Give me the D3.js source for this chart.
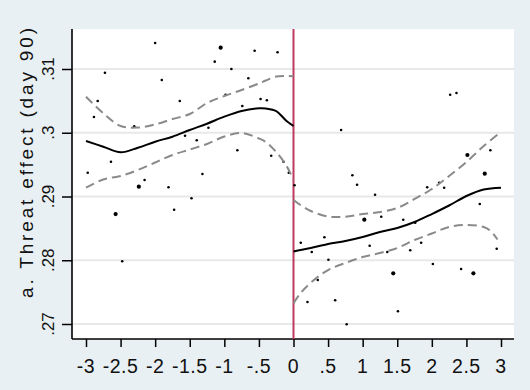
<!DOCTYPE html>
<html><head><meta charset="utf-8">
<script src="https://cdn.jsdelivr.net/npm/d3@7"></script>
<style>
html,body{margin:0;padding:0;background:#E9F0F3;}
svg{display:block;font-family:"Liberation Sans",Arial,Helvetica,sans-serif;}
</style></head>
<body><svg id="chart" width="530" height="390"></svg>
<script>
// ---- data ----
const xTicks = [-3,-2.5,-2,-1.5,-1,-0.5,0,0.5,1,1.5,2,2.5,3];
const xTickLabels = ["-3","-2.5","-2","-1.5","-1","-.5","0",".5","1","1.5","2","2.5","3"];
const yTicks = [0.27,0.28,0.29,0.30,0.31];
const yTickLabels = [".27",".28",".29",".3",".31"];
const yTitle = "a. Threat effect (day 90)";

const scatterX = [-2.0,-1.053,-0.562,-2.726,-1.139,-0.898,-1.904,-0.653,-0.981,-2.831,-1.644,-0.476,-0.385,-2.885,-0.740,-2.303,-1.230,-1.568,-1.399,-0.812,-2.639,-2.975,-1.317,-2.236,-2.153,-1.807,-1.475,-0.231,-0.322,-0.144,-0.068,0.015,0.688,2.265,2.356,0.851,0.919,1.179,2.514,2.765,2.846,1.933,2.106,2.178,-2.572,-1.726,-2.476,0.105,0.264,0.447,0.505,0.351,0.202,0.602,0.769,1.024,1.101,1.269,1.356,1.442,1.510,1.587,1.760,1.688,1.846,2.015,2.423,2.601,2.693,2.938];
const scatterY = [0.31408,0.31334,0.31287,0.30942,0.31115,0.31000,0.30827,0.30854,0.30597,0.30498,0.30498,0.30529,0.30509,0.30247,0.30420,0.30101,0.30079,0.29954,0.29882,0.29725,0.29546,0.29373,0.29353,0.29154,0.29259,0.29144,0.28972,0.31262,0.29640,0.29546,0.29373,0.29176,0.30043,0.30597,0.30624,0.29333,0.29185,0.29028,0.29651,0.29358,0.29725,0.29144,0.29216,0.29138,0.28725,0.28793,0.27984,0.28275,0.28129,0.28360,0.28009,0.27690,0.27345,0.27372,0.26995,0.28636,0.28228,0.28683,0.28129,0.27795,0.27199,0.28636,0.28589,0.28156,0.28275,0.27941,0.27863,0.27795,0.28882,0.28181];
const scatterBig = [0,1,0,0,0,0,0,0,0,0,0,0,0,0,0,0,0,0,0,0,0,0,0,1,0,0,0,0,0,0,0,0,0,0,0,0,0,0,1,1,0,0,0,0,1,0,0,0,0,0,0,0,0,0,0,1,0,0,0,1,0,0,0,0,0,0,0,1,0,0];

const leftX     = [-3,-2.75,-2.5,-2.25,-2,-1.75,-1.5,-1.25,-1,-0.75,-0.5,-0.4,-0.25,-0.1,0];
const leftFit   = [0.29871,0.29781,0.29693,0.29765,0.29860,0.29938,0.30043,0.30142,0.30252,0.30341,0.30383,0.30380,0.30341,0.30184,0.30106];
const leftUpper = [0.30565,0.30305,0.30106,0.30082,0.30130,0.30216,0.30294,0.30467,0.30576,0.30671,0.30773,0.30820,0.30882,0.30890,0.30885];
const leftLower = [0.29138,0.29267,0.29322,0.29416,0.29533,0.29651,0.29737,0.29824,0.29941,0.29996,0.29910,0.29855,0.29698,0.29478,0.29259];

const rightX     = [0,0.1,0.25,0.5,0.75,1,1.25,1.5,1.75,2,2.25,2.5,2.75,3];
const rightFit   = [0.28137,0.28160,0.28192,0.28255,0.28302,0.28365,0.28443,0.28506,0.28600,0.28725,0.28859,0.29008,0.29110,0.29138];
const rightUpper = [0.28945,0.28867,0.28773,0.28686,0.28683,0.28725,0.28757,0.28820,0.28961,0.29118,0.29322,0.29541,0.29792,0.30016];
const rightLowerX = [0,0.1,0.25,0.5,0.75,1,1.25,1.5,1.75,2,2.25,2.5,2.75,2.85,2.95];
const rightLower  = [0.27325,0.27481,0.27648,0.27847,0.27957,0.28050,0.28113,0.28192,0.28317,0.28420,0.28522,0.28553,0.28522,0.28460,0.28325];

// ---- layout ----
const svg = d3.select("#chart");
const plot = {left:72, right:514, top:29, bottom:339};
const x = d3.scaleLinear().domain([-3,3]).range([86,501]);
const y = d3.scaleLinear().domain([0.27,0.31]).range([324,69]);

svg.append("rect").attr("x",0).attr("y",0).attr("width",530).attr("height",390).attr("fill","#E9F0F3");
svg.append("rect").attr("x",plot.left).attr("y",plot.top)
  .attr("width",plot.right-plot.left).attr("height",plot.bottom-plot.top).attr("fill","#ffffff");

// gridlines
svg.append("g").selectAll("line").data(yTicks).join("line")
  .attr("x1",plot.left).attr("x2",plot.right)
  .attr("y1",d=>y(d)).attr("y2",d=>y(d))
  .attr("stroke","#E8E8E8").attr("stroke-width",2);

// axes
const yAxis = d3.axisLeft(y).tickValues(yTicks).tickSize(10).tickSizeOuter(0).tickFormat("");
const gy = svg.append("g").attr("transform",`translate(${plot.left},0)`).call(yAxis);
gy.select(".domain").remove();
gy.selectAll(".tick line").attr("stroke","#000").attr("stroke-width",1.5);
svg.append("line").attr("x1",plot.left).attr("x2",plot.left).attr("y1",plot.top).attr("y2",plot.bottom)
  .attr("stroke","#000").attr("stroke-width",1.6);

const xAxis = d3.axisBottom(x).tickValues(xTicks).tickSize(8).tickSizeOuter(0).tickFormat("");
const gx = svg.append("g").attr("transform",`translate(0,${plot.bottom})`).call(xAxis);
gx.select(".domain").remove();
gx.selectAll(".tick line").attr("stroke","#000").attr("stroke-width",1.5);
svg.append("line").attr("x1",plot.left).attr("x2",plot.right).attr("y1",plot.bottom).attr("y2",plot.bottom)
  .attr("stroke","#000").attr("stroke-width",1.6);

// tick labels
svg.append("g").selectAll("text").data(xTicks).join("text")
  .attr("x",d=>x(d)).attr("y",373)
  .attr("text-anchor","middle").attr("font-size",19.5).attr("letter-spacing","0.5px")
  .attr("fill","#111")
  .text((d,i)=>xTickLabels[i]);

svg.append("g").selectAll("text").data(yTicks).join("text")
  .attr("transform",d=>`translate(54,${y(d)}) rotate(-90)`)
  .attr("text-anchor","middle").attr("font-size",17)
  .attr("fill","#111")
  .text((d,i)=>yTickLabels[i]);

svg.append("text")
  .attr("transform",`translate(33,163) rotate(-90)`)
  .attr("text-anchor","middle").attr("font-size",19)
  .attr("textLength",270).attr("lengthAdjust","spacing")
  .attr("fill","#111")
  .text(yTitle);

// cutoff line
svg.append("line").attr("x1",x(0)).attr("x2",x(0)).attr("y1",plot.top).attr("y2",plot.bottom)
  .attr("stroke","#C0395F").attr("stroke-width",2);

// scatter
svg.append("g").selectAll("circle").data(scatterX).join("circle")
  .attr("cx",d=>x(d)).attr("cy",(d,i)=>y(scatterY[i]))
  .attr("r",(d,i)=>scatterBig[i]?2.1:1.3).attr("fill","#000");

// lines
const line = d3.line().x(d=>x(d[0])).y(d=>y(d[1])).curve(d3.curveCatmullRom);
function draw(xs, ys, dashed){
  svg.append("path").datum(xs.map((v,i)=>[v,ys[i]]))
    .attr("d",line).attr("fill","none")
    .attr("stroke",dashed?"#8A8A8A":"#000")
    .attr("stroke-width",2)
    .attr("stroke-dasharray",dashed?"9,5":null);
}
draw(leftX,leftUpper,true);
draw(leftX,leftLower,true);
draw(rightX,rightUpper,true);
draw(rightLowerX,rightLower,true);
draw(leftX,leftFit,false);
draw(rightX,rightFit,false);
</script></body></html>
